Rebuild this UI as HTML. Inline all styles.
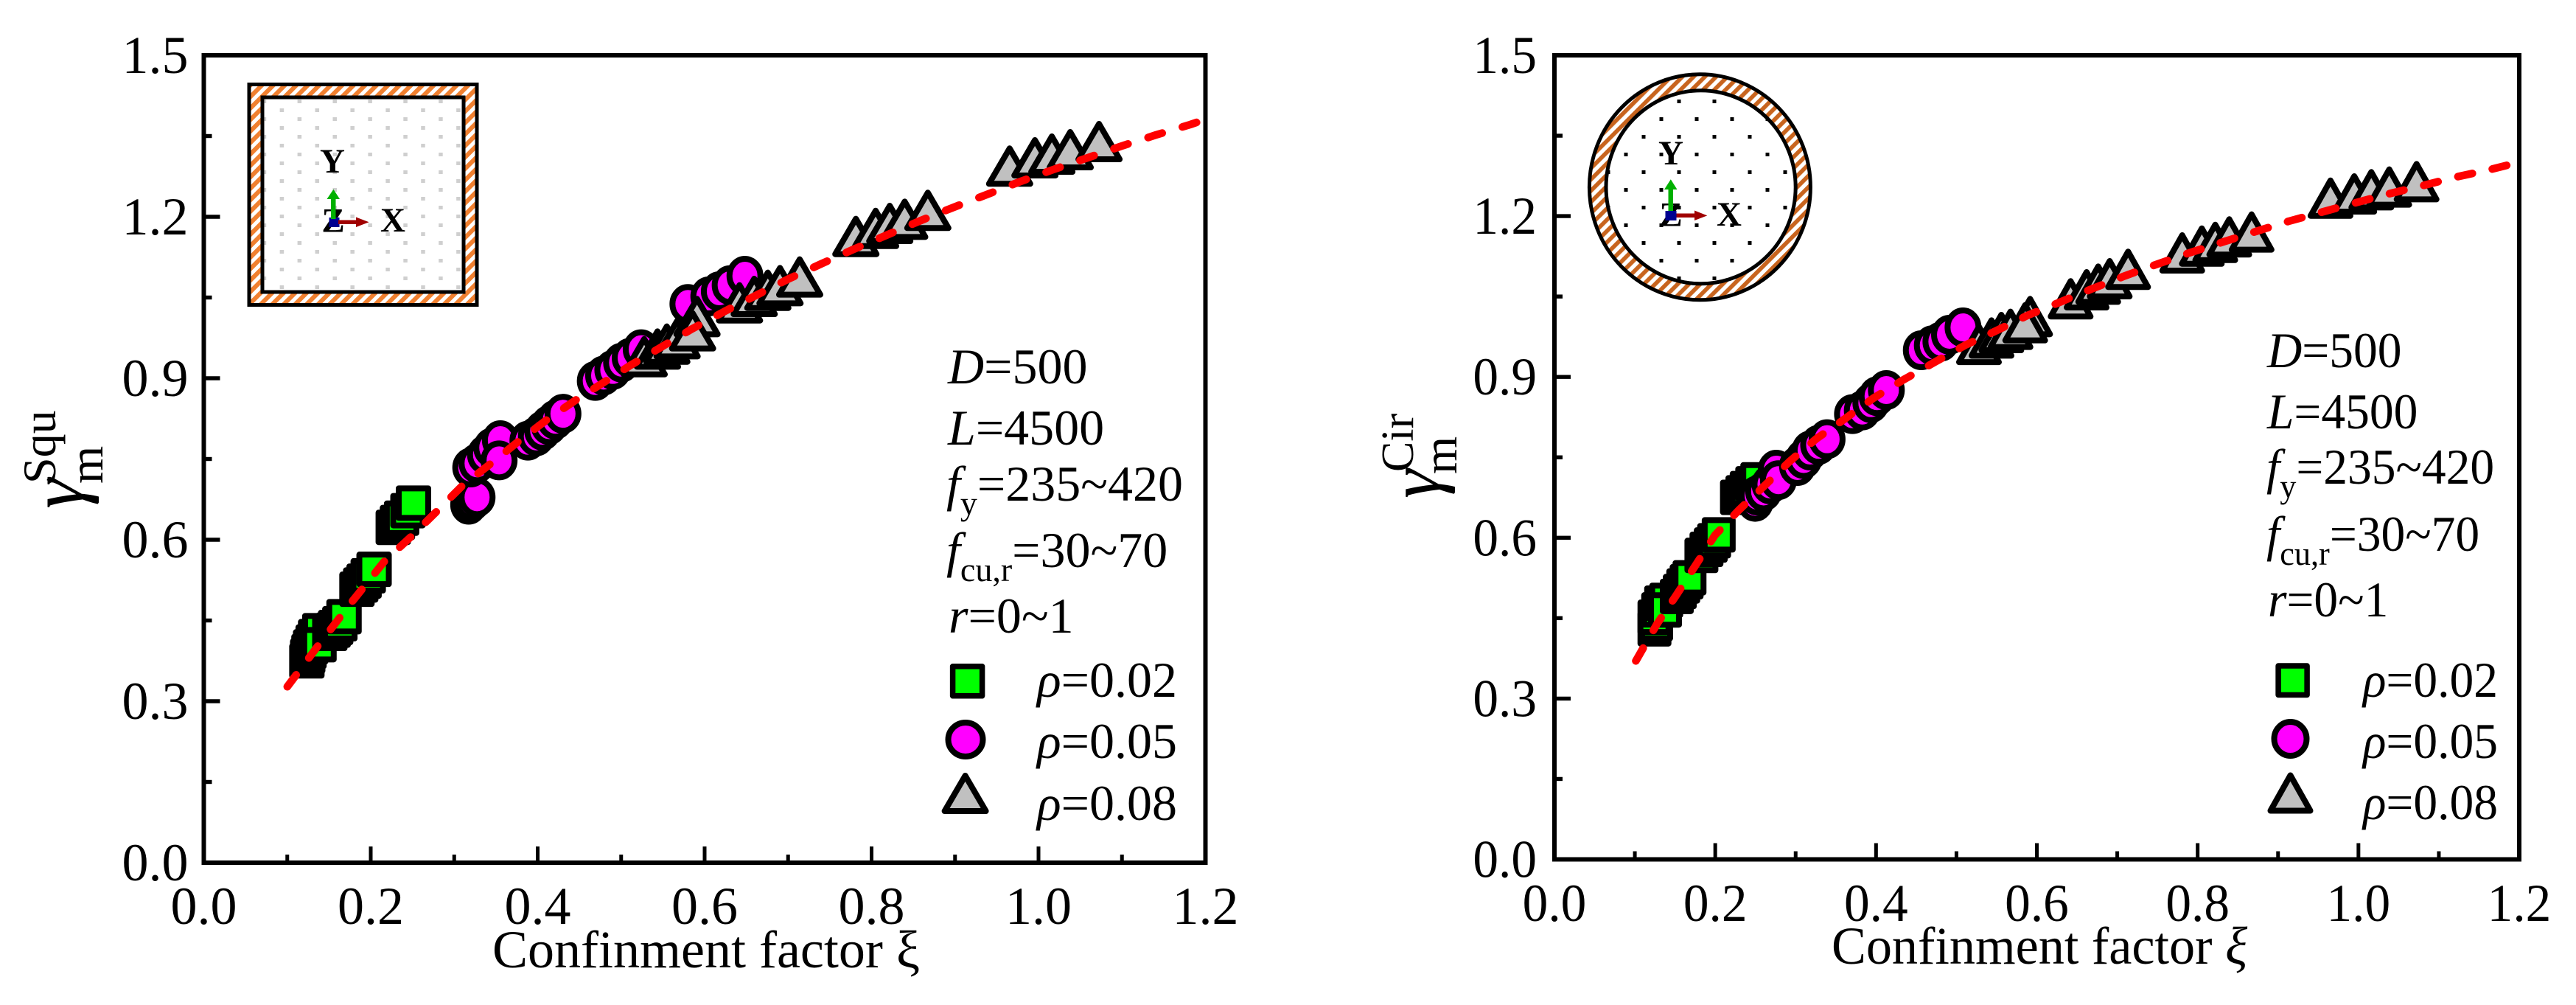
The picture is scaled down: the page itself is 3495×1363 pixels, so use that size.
<!DOCTYPE html>
<html lang="en">
<head>
<meta charset="utf-8">
<title>Confinement factor charts</title>
<style>
html,body{margin:0;padding:0;background:#fff;}
svg{display:block;font-family:"Liberation Serif","DejaVu Serif",serif;fill:#000;}
text{fill:#000;}
.an{font-size:68px;}
.sub{font-size:46px;}
.tri{font-size:47px;font-weight:bold;}
</style>
</head>
<body>
<svg id="chart" xmlns="http://www.w3.org/2000/svg" width="3495" height="1363" viewBox="0 0 3495 1363">
<defs>
<pattern id="hatchL" patternUnits="userSpaceOnUse" width="11" height="11" patternTransform="rotate(45)"><rect width="11" height="11" fill="#fff"/><rect width="6" height="11" fill="#f08030"/></pattern>
<pattern id="hatchR" patternUnits="userSpaceOnUse" width="10.8" height="10.8" patternTransform="rotate(45)"><rect width="10.8" height="10.8" fill="#fff"/><rect width="5.6" height="10.8" fill="#c8641e"/></pattern>
<pattern id="dotsL" patternUnits="userSpaceOnUse" x="403.6" y="135" width="47.9" height="24"><rect width="47.9" height="24" fill="#fff"/><rect x="0" y="0" width="5.5" height="5" fill="#cfcfcf"/><rect x="23.95" y="12" width="5.5" height="5" fill="#cfcfcf"/></pattern>
<pattern id="dotsR" patternUnits="userSpaceOnUse" x="2275.5" y="135" width="48" height="48"><rect width="48" height="48" fill="#fff"/><rect x="0" y="0" width="5" height="5" fill="#000"/><rect x="24" y="24" width="5" height="5" fill="#000"/></pattern>
</defs>
<rect width="3495" height="1363" fill="#fff"/>

<g id="left-panel"></g>
<g id="right-panel"></g>

<!-- left inset -->
<g>
<rect x="338" y="114.5" width="309" height="299" fill="url(#hatchL)" stroke="#000" stroke-width="5"/>
<rect x="356" y="132" width="273" height="264" fill="url(#dotsL)" stroke="#000" stroke-width="5"/>
<text class="tri" x="451" y="234" text-anchor="middle">Y</text>
<text class="tri" x="452" y="314.5" text-anchor="middle">Z</text>
<rect x="446.5" y="295" width="14" height="13" fill="#000090"/>
<path d="M449 297V270H443.5L452.4 256.7L461 270H455.5V297Z" fill="#00b000"/>
<path d="M459 298.5H483V294.5L500.6 301.3L483 308V304H459Z" fill="#a00000"/>
<text class="tri" x="533" y="314" text-anchor="middle">X</text>
</g>

<!-- right inset -->
<g>
<ellipse cx="2306.4" cy="253.8" rx="150" ry="153" fill="url(#hatchR)" stroke="#000" stroke-width="5"/>
<ellipse cx="2307.6" cy="253.8" rx="128.6" ry="131" fill="url(#dotsR)" stroke="#000" stroke-width="5"/>
<text class="tri" x="2267" y="223" text-anchor="middle">Y</text>
<text class="tri" x="2267" y="306.5" text-anchor="middle">Z</text>
<rect x="2259.5" y="286" width="15" height="13" fill="#000090"/>
<path d="M2263.5 286V257H2258L2266.8 243.3L2275.5 257H2270V286Z" fill="#00b000"/>
<path d="M2274.5 289.5H2299V285.5L2316.3 292.4L2299 299V295H2274.5Z" fill="#a00000"/>
<text class="tri" x="2346" y="306" text-anchor="middle">X</text>
</g>

<!-- left titles -->
<text x="668" y="1312" font-size="72">Confinment factor ξ</text>
<g>
<text transform="translate(112,690) rotate(-90)" font-size="104" font-style="italic">γ</text>
<text transform="translate(75,656) rotate(-90)" font-size="64">Squ</text>
<text transform="translate(139,656) rotate(-90)" font-size="66">m</text>
</g>

<!-- right titles -->
<text transform="translate(2485,1307) scale(.975,1)" font-size="72">Confinment factor <tspan font-style="italic">ξ</tspan></text>
<g>
<text transform="translate(1953,676) rotate(-90)" font-size="100" font-style="italic">γ</text>
<text transform="translate(1917,640) rotate(-90)" font-size="62">Cir</text>
<text transform="translate(1976,643) rotate(-90)" font-size="66">m</text>
</g>

<!-- left annotations -->
<g>
<text class="an" x="1286" y="520"><tspan font-style="italic">D</tspan>=500</text>
<text class="an" x="1286" y="603"><tspan font-style="italic">L</tspan>=4500</text>
<text class="an" x="1284" y="679"><tspan font-style="italic">f</tspan><tspan class="sub" dy="19">y</tspan><tspan dy="-19">=235~420</tspan></text>
<text class="an" x="1284" y="769"><tspan font-style="italic">f</tspan><tspan class="sub" dy="19">cu,r</tspan><tspan dy="-19">=30~70</tspan></text>
<text class="an" x="1287" y="858"><tspan font-style="italic">r</tspan>=0~1</text>
</g>
<g>
<rect x="1292.6" y="903.8" width="40" height="40" fill="#00ff00" stroke="#000" stroke-width="7.5" stroke-linejoin="round"/>
<ellipse cx="1310" cy="1003" rx="23.5" ry="23" fill="#ff00ff" stroke="#000" stroke-width="8"/>
<polygon points="1309.6,1052 1337.6,1100 1281.6,1100" fill="#c0c0c0" stroke="#000" stroke-width="8" stroke-linejoin="round"/>
<text class="an" x="1407" y="945"><tspan font-style="italic">ρ</tspan>=0.02</text>
<text class="an" x="1407" y="1028"><tspan font-style="italic">ρ</tspan>=0.05</text>
<text class="an" x="1407" y="1112"><tspan font-style="italic">ρ</tspan>=0.08</text>
</g>

<!-- right annotations -->
<g>
<text class="an" transform="translate(3076,498) scale(.963,1)"><tspan font-style="italic">D</tspan>=500</text>
<text class="an" transform="translate(3076,581) scale(.963,1)"><tspan font-style="italic">L</tspan>=4500</text>
<text class="an" transform="translate(3075,656) scale(.963,1)"><tspan font-style="italic">f</tspan><tspan class="sub" dy="19">y</tspan><tspan dy="-19">=235~420</tspan></text>
<text class="an" transform="translate(3075,747) scale(.963,1)"><tspan font-style="italic">f</tspan><tspan class="sub" dy="19">cu,r</tspan><tspan dy="-19">=30~70</tspan></text>
<text class="an" transform="translate(3077,836) scale(.963,1)"><tspan font-style="italic">r</tspan>=0~1</text>
</g>
<g>
<rect x="3091.1" y="903" width="39" height="39.5" fill="#00ff00" stroke="#000" stroke-width="7.5" stroke-linejoin="round"/>
<ellipse cx="3107.5" cy="1002" rx="22" ry="23" fill="#ff00ff" stroke="#000" stroke-width="8"/>
<polygon points="3107.5,1051.5 3134.5,1099.5 3080.5,1099.5" fill="#c0c0c0" stroke="#000" stroke-width="8" stroke-linejoin="round"/>
<text class="an" transform="translate(3206,945) scale(.963,1)"><tspan font-style="italic">ρ</tspan>=0.02</text>
<text class="an" transform="translate(3206,1028) scale(.963,1)"><tspan font-style="italic">ρ</tspan>=0.05</text>
<text class="an" transform="translate(3206,1111) scale(.963,1)"><tspan font-style="italic">ρ</tspan>=0.08</text>
</g>

<script>
const xTickValues = [0, 0.2, 0.4, 0.6, 0.8, 1.0, 1.2];
const xTickLabels = ["0.0", "0.2", "0.4", "0.6", "0.8", "1.0", "1.2"];
const xMinorTicks = [0.1, 0.3, 0.5, 0.7, 0.9, 1.1];
const yTickValues = [0, 0.3, 0.6, 0.9, 1.2, 1.5];
const yTickLabels = ["0.0", "0.3", "0.6", "0.9", "1.2", "1.5"];
const yMinorTicks = [0.15, 0.45, 0.75, 1.05, 1.35];

const leftSquareX = [0.1235,0.1245,0.126,0.128,0.131,0.134,0.139,0.138, 0.151,0.155,0.158,0.163,0.168, 0.1835,0.188,0.192,0.197,0.204, 0.227,0.232,0.237,0.2446,0.2512];
const leftSquareY = [0.375,0.384,0.3925,0.401,0.41,0.42,0.431,0.405, 0.426,0.432,0.437,0.444,0.457, 0.508,0.516,0.523,0.533,0.545, 0.623,0.632,0.64,0.654,0.668];
const leftCircleX = [0.3173,0.322,0.3274,0.3198,0.3274,0.3375,0.345,0.3553,0.3538, 0.3883,0.3984,0.406,0.4137,0.4212,0.4303, 0.469,0.479,0.49,0.5005,0.5108,0.524, 0.58,0.605,0.6176,0.6306,0.6483];
const leftCircleY = [0.665,0.672,0.679,0.7342,0.742,0.758,0.771,0.785,0.7474, 0.784,0.792,0.8025,0.813,0.823,0.834, 0.895,0.905,0.9155,0.929,0.938,0.954, 1.038,1.052,1.0616,1.073,1.0904];
const leftTriangleX = [0.5276,0.5435,0.5547,0.567,0.5909,0.5856, 0.6418,0.6594,0.6757,0.6903,0.7139, 0.7812,0.8049,0.8218,0.8397,0.8674, 0.9654,0.9957,1.016,1.038,1.0725];
const leftTriangleY = [0.9415,0.9557,0.9648,0.9749,1.016,0.9895, 1.0415,1.0534,1.0648,1.0735,1.0895, 1.1648,1.1798,1.189,1.1968,1.2133, 1.2955,1.311,1.3178,1.326,1.3411];
const leftFitX = [0.1,0.1373,0.1769,0.2159,0.2486,0.2793,0.3095,0.3426,0.378,0.411,0.449,0.474,0.5108,0.5476,0.585,0.6232,0.6615,0.6998,0.739,0.778,0.8178,0.857,0.897,0.937,0.977,1.0177,1.058,1.099,1.14,1.1816,1.2];
const leftFitY = [0.327,0.404,0.4836,0.559,0.606,0.653,0.7,0.74,0.784,0.823,0.863,0.8873,0.9237,0.9575,0.9918,1.0237,1.0538,1.084,1.112,1.1393,1.1658,1.1918,1.2169,1.2407,1.2648,1.2877,1.3092,1.3311,1.3516,1.3712,1.381];

const rightSquareX = [0.1244,0.1265,0.1244,0.129,0.1327,0.139,0.1375, 0.1522,0.1559,0.1602,0.1644,0.168, 0.1828,0.1891,0.1944,0.1986,0.2043, 0.227,0.2338,0.2391,0.246,0.2523];
const rightSquareY = [0.4301,0.44,0.4516,0.4654,0.478,0.4832,0.4653, 0.4906,0.4996,0.51,0.518,0.5253, 0.567,0.5784,0.5864,0.5944,0.6054, 0.6754,0.6838,0.6917,0.7007,0.708];
const rightCircleX = [0.2496,0.2521,0.2602,0.2681,0.2759,0.2786, 0.3023,0.3101,0.318,0.3286,0.3391, 0.3707,0.3829,0.3936,0.4013,0.4128, 0.4563,0.47,0.4807,0.4914,0.5082];
const rightCircleY = [0.667,0.6788,0.6864,0.6996,0.727,0.7074, 0.7338,0.7469,0.7627,0.7733,0.7838, 0.8306,0.8374,0.8512,0.8641,0.8755, 0.9498,0.959,0.9659,0.9787,0.9924];
const rightTriangleX = [0.528,0.5436,0.5558,0.5672,0.5916,0.5855, 0.642,0.6619,0.6763,0.6906,0.7135, 0.7808,0.8052,0.8219,0.8393,0.8671, 0.9652,0.9948,1.016,1.0383,1.0723];
const rightTriangleY = [0.962,0.9741,0.9842,0.9902,1.014,1.0025, 1.0471,1.064,1.0745,1.0846,1.1021, 1.1327,1.1455,1.1524,1.1626,1.1717, 1.2349,1.2428,1.2506,1.2556,1.2657];
const rightFitX = [0.1,0.1275,0.1522,0.1759,0.1997,0.2297,0.2612,0.2928,0.3259,0.3612,0.3967,0.4342,0.4721,0.5106,0.55,0.5885,0.6283,0.6686,0.7092,0.7496,0.7903,0.8312,0.8723,0.9134,0.9548,0.9965,1.0383,1.0801,1.1218,1.1636,1.2];
const rightFitY = [0.367,0.4391,0.4942,0.5495,0.6048,0.6521,0.697,0.7428,0.7849,0.8217,0.8604,0.8948,0.9268,0.959,0.9865,1.0148,1.0392,1.0644,1.0883,1.1103,1.1318,1.1516,1.1713,1.1905,1.2075,1.2249,1.2418,1.257,1.2731,1.2868,1.3005];

const NS = 'http://www.w3.org/2000/svg';

function el(parent, tag, attrs) {
  const node = document.createElementNS(NS, tag);
  for (const k in attrs) node.setAttribute(k, attrs[k]);
  parent.appendChild(node);
  return node;
}

function drawPanel(cfg) {
  const g = document.getElementById(cfg.id);
  const xScale = v => cfg.x0 + (v / 1.2) * (cfg.x1 - cfg.x0);
  const yScale = v => cfg.yBottom - (v / 1.5) * (cfg.yBottom - cfg.yTop);

  const frame = el(g, 'rect', {x: cfg.x0, y: cfg.yTop, width: cfg.x1 - cfg.x0, height: cfg.yBottom - cfg.yTop, fill: 'none', stroke: '#000', 'stroke-width': 6});
  
  

  xTickValues.forEach((v, i) => {
    const t = el(g, 'line', {x1: xScale(v), x2: xScale(v), y1: cfg.yBottom, y2: cfg.yBottom - 22, stroke: '#000', 'stroke-width': 5});
    
    
    const s = el(g, 'text', {transform: `translate(${xScale(v)},${cfg.xLabelY}) scale(${cfg.sx},1)`, 'text-anchor': 'middle', 'font-size': 72});
    
    
    s.textContent = xTickLabels[i];
  });
  xMinorTicks.forEach(v => {
    const t = el(g, 'line', {x1: xScale(v), x2: xScale(v), y1: cfg.yBottom, y2: cfg.yBottom - 11, stroke: '#000', 'stroke-width': 5});
    
    
  });
  yTickValues.forEach((v, i) => {
    const t = el(g, 'line', {x1: cfg.x0, x2: cfg.x0 + 22, y1: yScale(v), y2: yScale(v), stroke: '#000', 'stroke-width': 5.4});
    
    
    const s = el(g, 'text', {transform: `translate(${cfg.x0 - cfg.labelGap},${yScale(v) + 24}) scale(${cfg.sx},1)`, 'text-anchor': 'end', 'font-size': 72});
    
    
    s.textContent = yTickLabels[i];
  });
  yMinorTicks.forEach(v => {
    const t = el(g, 'line', {x1: cfg.x0, x2: cfg.x0 + 11, y1: yScale(v), y2: yScale(v), stroke: '#000', 'stroke-width': 5.4});
    
    
  });

  cfg.squareX.forEach((v, i) => {
    const hx = cfg.squareHalf;
    const m = el(g, 'rect', {x: xScale(v) - hx, y: yScale(cfg.squareY[i]) - 20, width: 2 * hx, height: 40, fill: '#00ff00', stroke: '#000', 'stroke-width': 8, 'stroke-linejoin': 'round'});
    
    
  });
  cfg.circleX.forEach((v, i) => {
    const m = el(g, 'ellipse', {cx: xScale(v), cy: yScale(cfg.circleY[i]), rx: 21, ry: 23, fill: '#ff00ff', stroke: '#000', 'stroke-width': 8});
    
    
  });
  cfg.triangleX.forEach((v, i) => {
    const cx = xScale(v), cy = yScale(cfg.triangleY[i]), b = cfg.triHalf;
    const m = el(g, 'polygon', {points: `${cx},${cy - 23} ${cx + b},${cy + 25} ${cx - b},${cy + 25}`, fill: '#c0c0c0', stroke: '#000', 'stroke-width': 8, 'stroke-linejoin': 'round'});
    
    
  });

  const d = cfg.fitX.map((v, i) => `${i ? 'L' : 'M'}${xScale(v).toFixed(1)} ${yScale(cfg.fitY[i]).toFixed(1)}`).join('');
  const fit = el(g, 'path', {d: d, fill: 'none', stroke: '#ff0000', 'stroke-width': 10.5, 'stroke-linecap': 'round', 'stroke-linejoin': 'round', 'stroke-dasharray': cfg.dash, 'stroke-dashoffset': cfg.dashOffset});
  
  
}

drawPanel({id: 'left-panel', x0: 276.5, x1: 1635.5, yTop: 75, yBottom: 1170, sx: 1, xLabelY: 1253, labelGap: 21, squareHalf: 20, triHalf: 28, dash: '20 28.7', dashOffset: 0,
  squareX: leftSquareX, squareY: leftSquareY, circleX: leftCircleX, circleY: leftCircleY, triangleX: leftTriangleX, triangleY: leftTriangleY, fitX: leftFitX, fitY: leftFitY});
drawPanel({id: 'right-panel', x0: 2109, x1: 3418, yTop: 75, yBottom: 1165.5, sx: 0.963, xLabelY: 1249, labelGap: 24, squareHalf: 19, triHalf: 27, dash: '20 27.8', dashOffset: -2.7,
  squareX: rightSquareX, squareY: rightSquareY, circleX: rightCircleX, circleY: rightCircleY, triangleX: rightTriangleX, triangleY: rightTriangleY, fitX: rightFitX, fitY: rightFitY});
</script>
</svg>
</body>
</html>
